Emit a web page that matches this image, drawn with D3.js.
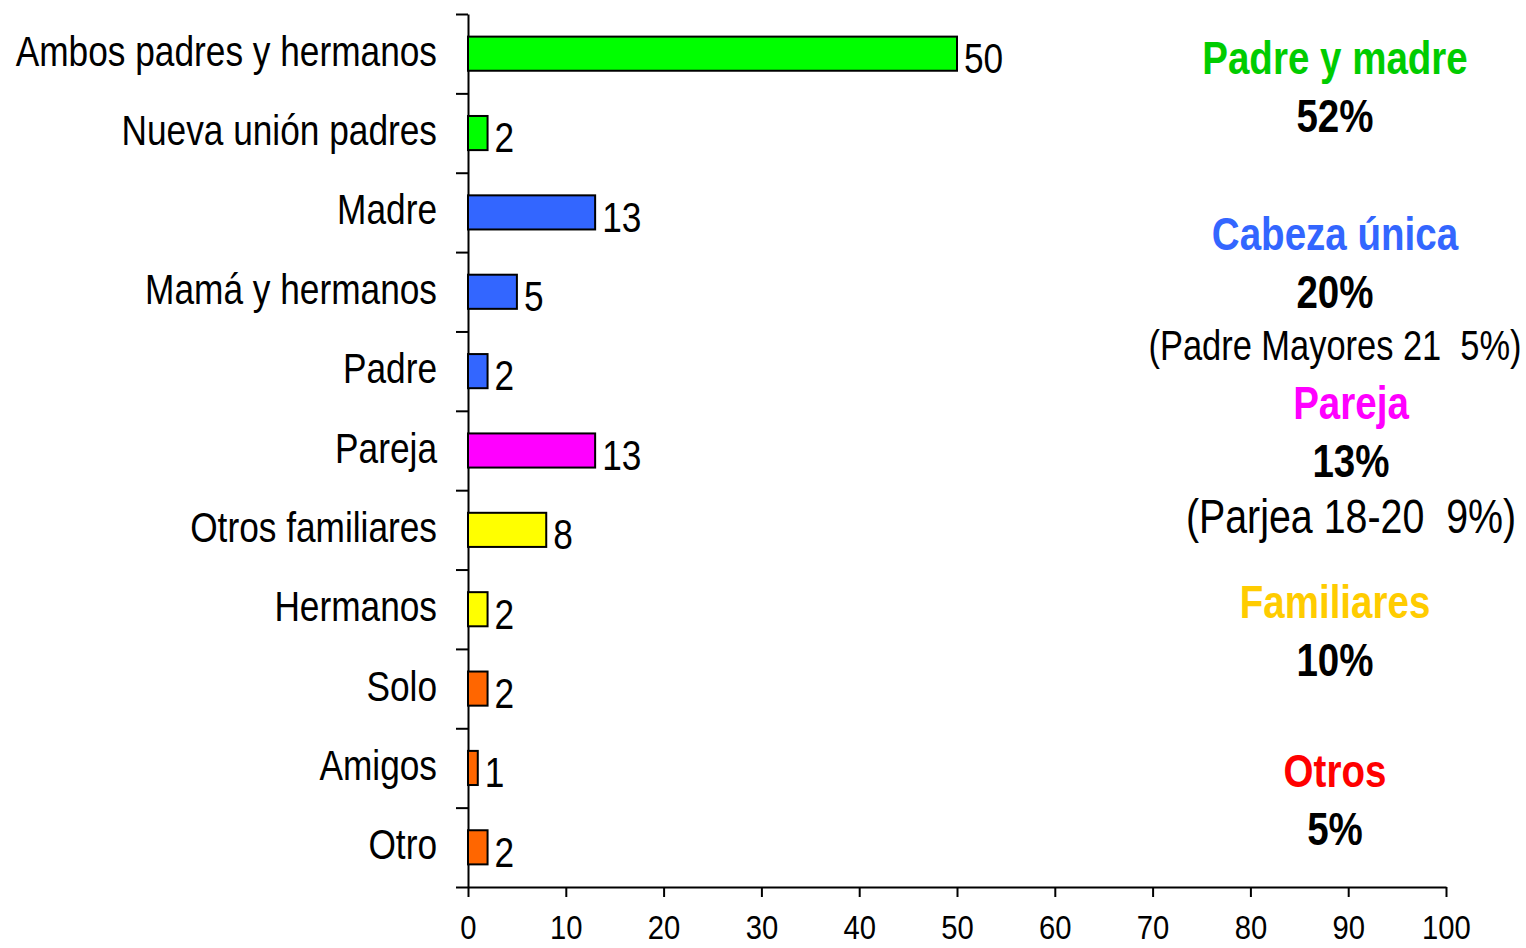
<!DOCTYPE html>
<html>
<head>
<meta charset="utf-8">
<script src="https://cdn.jsdelivr.net/npm/d3@7"></script>
<style>
  body { margin: 0; background: #fff; }
  text { font-family: "Liberation Sans", Arial, sans-serif; white-space: pre; }
</style>
</head>
<body>
<div class="chart"></div>
<script>
// data
const categories = ["Ambos padres y hermanos", "Nueva unión padres", "Madre", "Mamá y hermanos",
    "Padre", "Pareja", "Otros familiares", "Hermanos", "Solo", "Amigos", "Otro"];
const values = [50, 2, 13, 5, 2, 13, 8, 2, 2, 1, 2];
const groups = ["padres", "padres", "unica", "unica", "unica", "pareja", "familia", "familia", "otros", "otros", "otros"];
const xTicks = [0, 10, 20, 30, 40, 50, 60, 70, 80, 90, 100];

// right side summary text
const groupTitles = ["Padre y madre", "Cabeza única", "Pareja", "Familiares", "Otros"];
const groupPercents = ["52%", "20%", "13%", "10%", "5%"];
const groupNotes = ["", "(Padre Mayores 21  5%)", "(Parjea 18-20  9%)", "", ""];

const barColor = {padres: "#00ff00", unica: "#3366ff", pareja: "#ff00ff", familia: "#ffff00", otros: "#ff6600"};
const titleColor = ["#00cc00", "#3366ff", "#ff00ff", "#ffcc00", "#ff0000"];

// the original uses a narrow font; squeeze Liberation Sans horizontally
const narrow = 0.82;

const margin = {top: 14, right: 80, bottom: 61, left: 468};
const W = 1526, H = 948;
const w = W - margin.left - margin.right;
const h = H - margin.top - margin.bottom;

const svg = d3.select(".chart")
    .append("svg")
        .attr("width", W)
        .attr("height", H)
    .append("g")
        .attr("transform", "translate(" + margin.left + "," + margin.top + ")");

const x = d3.scaleLinear().domain([0, 100]).range([0, w]);
const y = d3.scaleBand().domain(categories).range([0, h])
    .paddingInner(0.57).paddingOuter(0.285);
const yIdx = d3.scaleLinear().domain([0, categories.length]).range([0, h]);

// x axis
const xAxis = svg.append("g")
    .attr("transform", "translate(0," + h + ")")
    .call(d3.axisBottom(x).tickValues(xTicks).tickSize(10).tickSizeOuter(0).tickPadding(18));
xAxis.selectAll("text")
    .style("font-size", "34px")
    .attr("fill", "#000")
    .attr("transform", "scale(0.86,1)");

// y axis: ticks between categories
svg.append("g")
    .call(d3.axisLeft(yIdx).tickValues(d3.range(categories.length + 1))
        .tickFormat("").tickSize(12).tickSizeOuter(0));

svg.selectAll(".domain, .tick line").attr("stroke", "#000").attr("stroke-width", 2);

// category labels
svg.selectAll(".cat")
    .data(categories)
    .enter()
    .append("text")
        .attr("class", "cat")
        .attr("transform", d => "translate(-31," + (y(d) + y.bandwidth() / 2) + ") scale(" + narrow + ",1)")
        .attr("dy", "0.28em")
        .attr("text-anchor", "end")
        .style("font-size", "43px")
        .text(d => d);

// bars
svg.selectAll("rect.bar")
    .data(values)
    .enter()
    .append("rect")
        .attr("class", "bar")
        .attr("x", x(0))
        .attr("y", (d, i) => y(categories[i]))
        .attr("width", d => x(d) - x(0))
        .attr("height", y.bandwidth())
        .attr("fill", (d, i) => barColor[groups[i]])
        .attr("stroke", "#000")
        .attr("stroke-width", 2);

// value labels
svg.selectAll(".val")
    .data(values)
    .enter()
    .append("text")
        .attr("class", "val")
        .attr("transform", (d, i) => "translate(" + (x(d) + 7) + "," + (y(categories[i]) + y.bandwidth() / 2) + ") scale(" + narrow + ",1)")
        .attr("dy", "0.45em")
        .style("font-size", "43px")
        .text(d => d);

// summary text on the right
const summary = d3.select("svg").append("g");
const titleY = [74, 250, 419, 618, 787];
const centerX = [1335, 1335, 1351, 1335, 1335];
const noteSize = [0, 42, 48, 0, 0];
const noteY = [0, 360, 533, 0, 0];

function addText(tx, ty, size, str) {
    return summary.append("text")
        .attr("transform", "translate(" + tx + "," + ty + ") scale(" + narrow + ",1)")
        .attr("text-anchor", "middle")
        .style("font-size", size + "px")
        .text(str);
}

groupTitles.forEach((t, i) => {
    addText(centerX[i], titleY[i], 47, t)
        .attr("fill", titleColor[i])
        .style("font-weight", "bold");
    addText(centerX[i], titleY[i] + 58, 47, groupPercents[i])
        .style("font-weight", "bold");
    if (groupNotes[i]) {
        addText(centerX[i], noteY[i], noteSize[i], groupNotes[i]);
    }
});
</script>
</body>
</html>
